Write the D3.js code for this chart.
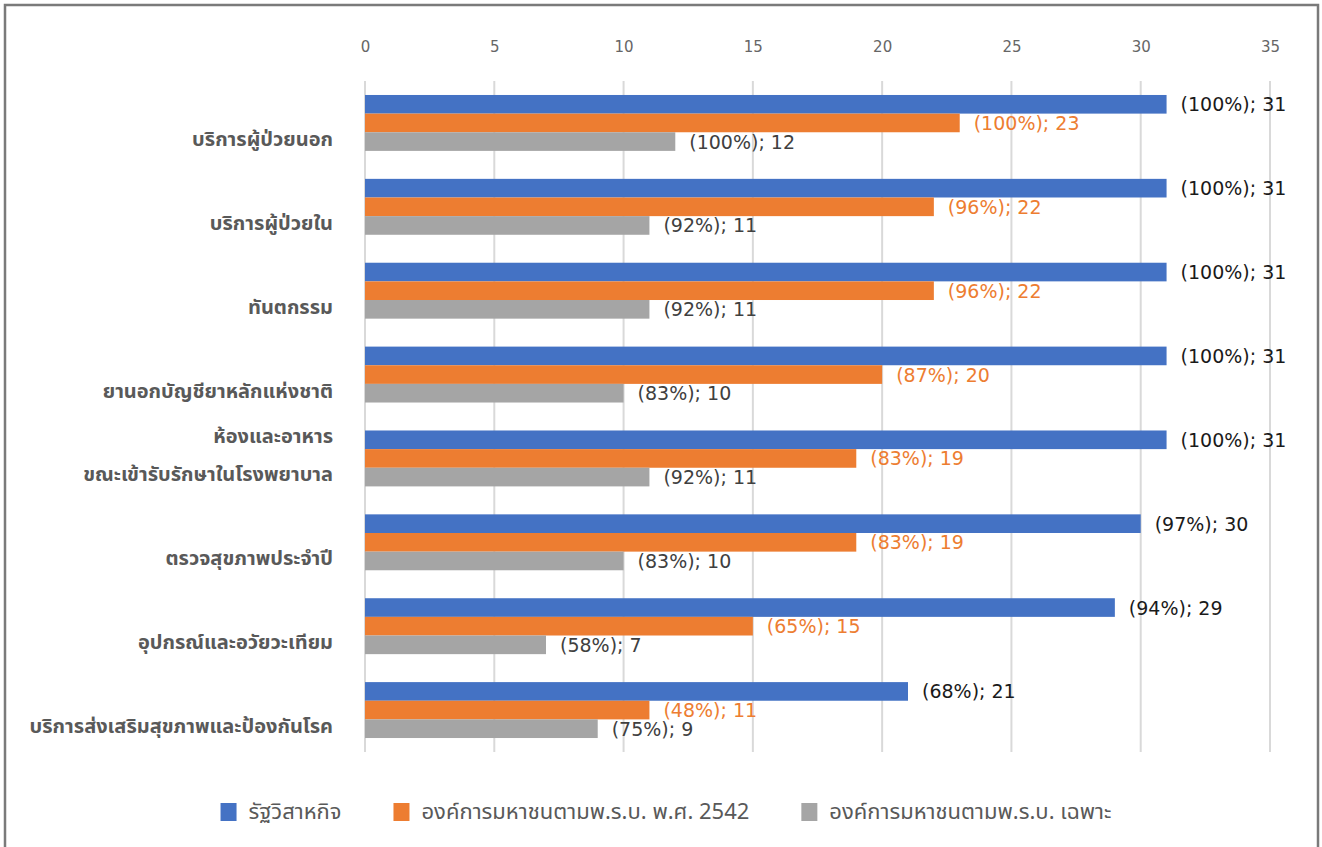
<!DOCTYPE html>
<html>
<head>
<meta charset="utf-8">
<script src="https://cdn.jsdelivr.net/npm/d3@7"></script>
<style>
  html, body { margin: 0; padding: 0; background: #fff; }
  svg { display: block; }
</style>
</head>
<body>
<svg id="chart" width="1322" height="847"></svg>
<script>
const categories = [
  ["บริการผู้ป่วยนอก"],
  ["บริการผู้ป่วยใน"],
  ["ทันตกรรม"],
  ["ยานอกบัญชียาหลักแห่งชาติ"],
  ["ห้องและอาหาร", "ขณะเข้ารับรักษาในโรงพยาบาล"],
  ["ตรวจสุขภาพประจำปี"],
  ["อุปกรณ์และอวัยวะเทียม"],
  ["บริการส่งเสริมสุขภาพและป้องกันโรค"]
];
const seriesNames = ["รัฐวิสาหกิจ", "องค์การมหาชนตามพ.ร.บ. พ.ศ. 2542", "องค์การมหาชนตามพ.ร.บ. เฉพาะ"];
const stateEnterprise = [31, 31, 31, 31, 31, 30, 29, 21];
const stateEnterprisePct = [100, 100, 100, 100, 100, 97, 94, 68];
const publicOrg2542 = [23, 22, 22, 20, 19, 19, 15, 11];
const publicOrg2542Pct = [100, 96, 96, 87, 83, 83, 65, 48];
const publicOrgSpecific = [12, 11, 11, 10, 11, 10, 7, 9];
const publicOrgSpecificPct = [100, 92, 92, 83, 92, 83, 58, 75];
const xTicks = [0, 5, 10, 15, 20, 25, 30, 35];

const colors = ["#4472C4", "#ED7D31", "#A5A5A5"];
const labelColors = ["#1a1a1a", "#ED7D31", "#404040"];
const values = [stateEnterprise, publicOrg2542, publicOrgSpecific];
const pcts = [stateEnterprisePct, publicOrg2542Pct, publicOrgSpecificPct];

const svg = d3.select("#chart");
const numFont = "'DejaVu Sans', 'Liberation Sans', sans-serif";
const thaiFont = "'Noto Sans Thai', 'Leelawadee UI', 'Tahoma', 'DejaVu Sans', sans-serif";

// frame
svg.append("rect").attr("x", 5).attr("y", 5).attr("width", 1313).attr("height", 860)
  .attr("fill", "none").attr("stroke", "#7a7a7a").attr("stroke-width", 2.5);

const x = d3.scaleLinear().domain([0, 35]).range([365, 1270]);
const y = d3.scaleBand().domain(d3.range(categories.length)).range([81, 752])
  .paddingInner(1 / 3).paddingOuter(1 / 6);
const ySub = d3.scaleBand().domain(d3.range(3)).range([0, y.bandwidth()]);

// gridlines
svg.append("g").selectAll("line").data(xTicks).join("line")
  .attr("x1", d => x(d)).attr("x2", d => x(d))
  .attr("y1", 81).attr("y2", 752)
  .attr("stroke", "#d9d9d9").attr("stroke-width", 2);

// top axis
const axis = svg.append("g").attr("transform", "translate(0,52)")
  .call(d3.axisTop(x).tickValues(xTicks).tickSize(0).tickPadding(0));
axis.select(".domain").remove();
axis.selectAll("text").attr("fill", "#666666").attr("font-size", 15)
  .attr("font-family", numFont).attr("dy", 0);

// bars
categories.forEach((cat, i) => {
  const g = svg.append("g").attr("transform", `translate(0,${y(i)})`);
  values.forEach((vals, s) => {
    g.append("rect")
      .attr("x", x(0)).attr("y", ySub(s))
      .attr("width", x(vals[i]) - x(0)).attr("height", ySub.bandwidth())
      .attr("fill", colors[s]);
    g.append("text")
      .attr("x", x(vals[i]) + 14)
      .attr("y", ySub(s) + ySub.bandwidth() / 2)
      .attr("dominant-baseline", "central")
      .attr("font-family", numFont).attr("font-size", 19)
      .attr("fill", labelColors[s])
      .text(`(${pcts[s][i]}%); ${vals[i]}`);
  });
  // category label
  const cy = y(i) + y.bandwidth() / 2;
  const t = svg.append("text")
    .attr("text-anchor", "end")
    .attr("font-family", thaiFont).attr("font-size", 20).attr("font-weight", "bold")
    .attr("fill", "#595959");
  if (cat.length === 1) {
    t.append("tspan").attr("x", 333).attr("y", cy + 17).attr("dominant-baseline", "central").text(cat[0]);
  } else {
    t.append("tspan").attr("x", 333).attr("y", cy - 21).attr("dominant-baseline", "central").text(cat[0]);
    t.append("tspan").attr("x", 333).attr("y", cy + 17).attr("dominant-baseline", "central").text(cat[1]);
  }
});

// legend
const legend = svg.append("g");
const items = [];
seriesNames.forEach((name, s) => {
  const it = legend.append("g");
  it.append("rect").attr("x", 0).attr("y", 803).attr("width", 16).attr("height", 18).attr("fill", colors[s]);
  const tx = it.append("text").attr("x", 28).attr("y", 812).attr("dominant-baseline", "central")
    .attr("font-family", thaiFont).attr("font-size", 22).attr("fill", "#595959").text(name);
  const w = 28 + tx.node().getComputedTextLength();
  items.push({ it, w });
});
const gap = 52;
const total = d3.sum(items, d => d.w) + gap * (items.length - 1);
let start = 666 - total / 2;
items.forEach(d => {
  d.it.attr("transform", `translate(${start},0)`);
  start += d.w + gap;
});
</script>
</body>
</html>
